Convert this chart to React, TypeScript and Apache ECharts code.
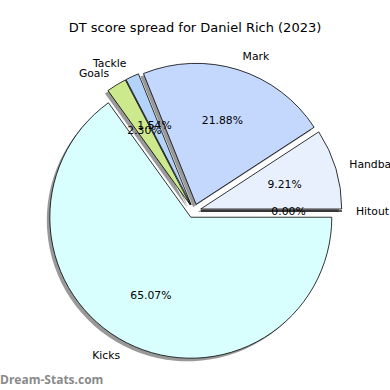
import React, { useEffect, useRef } from "react";
import * as echarts from "echarts";

const categories = ["Hitout", "Handball", "Mark", "Tackle", "Goals", "Kicks"];
const values = [0, 9.21, 21.88, 1.54, 2.3, 65.07];
const colors = ["#f0f5fe", "#e9f0fd", "#c4d8fe", "#b4d3fb", "#cde98e", "#d8fefe"];
const titleText = "DT score spread for Daniel Rich (2023)";
const watermark = "Dream-Stats.com";

const CX = 194;
const CY = 211;
const R = 141;
const OFF = 7;
const FONT = "DejaVu Sans";

export default function App() {
  const ref = useRef<HTMLDivElement>(null);
  useEffect(() => {
    if (!ref.current) return;
    const chart = echarts.init(ref.current, null, { renderer: "svg" });
    const mk = (withColor: boolean, shadow: boolean) =>
      categories.map((name, i) => ({
        name,
        value: values[i],
        selected: true,
        itemStyle: shadow
          ? { color: "#999999", borderWidth: 0 }
          : withColor
          ? { color: colors[i], borderColor: "#000", borderWidth: 0.8 }
          : { color: "rgba(0,0,0,0)", borderWidth: 0 },
      }));
    const common = {
      type: "pie",
      clockwise: false,
      startAngle: 0,
      selectedMode: "multiple",
      selectedOffset: OFF,
      avoidLabelOverlap: false,
      animation: false,
      silent: true,
      emphasis: { disabled: true },
      select: { itemStyle: {} },
      minShowLabelAngle: 0,
      labelLayout: { hideOverlap: false },
    };
    chart.setOption({
      animation: false,
      title: {
        text: titleText,
        left: "center",
        top: 16,
        textStyle: { fontFamily: FONT, fontSize: 13, fontWeight: "normal", color: "#000" },
      },
      graphic: [
        {
          type: "text",
          left: 0,
          top: 373,
          style: { text: watermark, fontFamily: "Open Sans", fontSize: 12, fontWeight: "bold", fill: "#8a8a8a" },
        },
      ],
      series: [
        {
          ...common,
          center: [CX - 3, CY + 3],
          radius: [0, R],
          label: { show: false },
          labelLine: { show: false },
          data: mk(false, true),
        },
        {
          ...common,
          center: [CX, CY],
          radius: [0, R],
          label: {
            show: true,
            position: "outside",
            formatter: "{b}",
            fontFamily: FONT,
            fontSize: 10.8,
            color: "#000",
          },
          labelLine: { show: false, length: 14, length2: -5 },
          data: mk(true, false),
        },
        {
          ...common,
          center: [CX, CY],
          radius: [28, R],
          label: {
            show: true,
            position: "inside",
            formatter: (p: any) => p.percent.toFixed(2) + "%",
            fontFamily: FONT,
            fontSize: 10.8,
            color: "#000",
          },
          labelLine: { show: false },
          data: mk(false, false),
        },
      ],
    });
    return () => chart.dispose();
  }, []);
  return (
    <div
      ref={ref}
      style={{ position: "fixed", left: 0, top: 0, width: 390, height: 390, background: "#fff" }}
    />
  );
}
